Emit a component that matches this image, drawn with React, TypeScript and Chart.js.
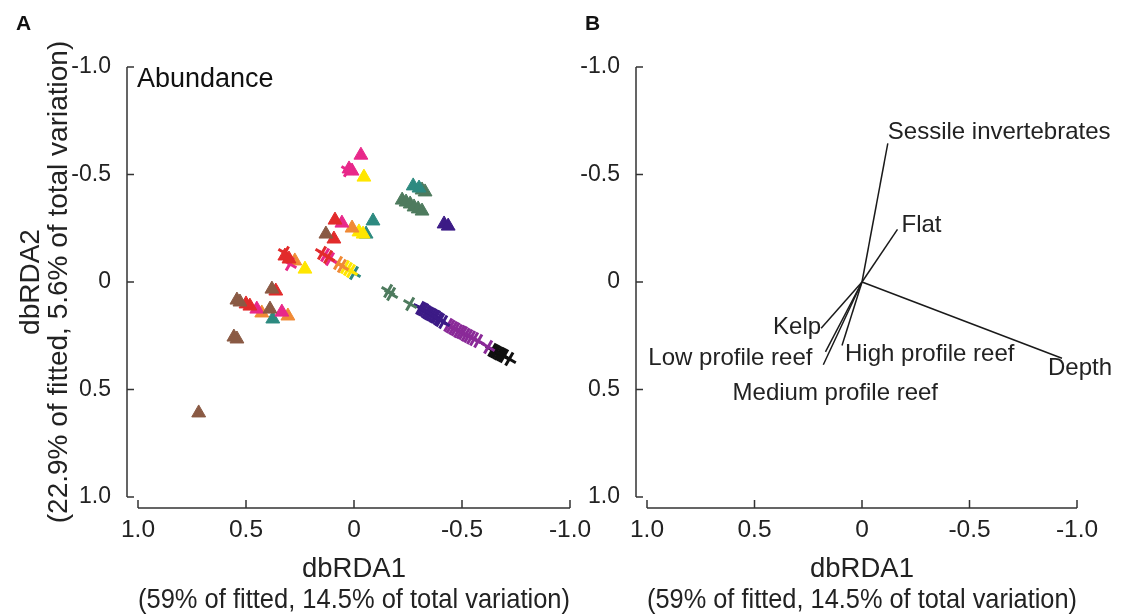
import React, { useEffect, useRef } from "react";
import { Chart, registerables } from "chart.js";
Chart.register(...registerables);

const FONT = "'Liberation Sans', Arial, Helvetica, sans-serif";
const INK = "#222222";

// ---- axes ----
const tickValues = [-1, -0.5, 0, 0.5, 1];
const tickLabels = ["-1.0", "-0.5", "0", "0.5", "1.0"];
const xTitle = ["dbRDA1", "(59% of fitted, 14.5% of total variation)"];
const yTitle = ["dbRDA2", "(22.9% of fitted, 5.6% of total variation)"];
const panelATitle = "Abundance";

// ---- panel A series (dbRDA1, dbRDA2) ----
const brownTriangles = [[0.13, -0.223], [0.38, 0.033], [0.528, 0.093], [0.542, 0.084], [0.389, 0.126], [0.542, 0.265], [0.556, 0.256], [0.719, 0.609]];
const redTriangles = [[0.088, -0.288], [0.093, -0.2], [0.32, -0.121], [0.301, -0.107], [0.362, 0.042], [0.482, 0.112], [0.5, 0.102]];
const redCrosses = [[0.148, -0.135], [0.12, -0.116], [0.32, -0.135]];
const magentaTriangles = [[-0.032, -0.59], [0.009, -0.516], [0.023, -0.526], [0.056, -0.274], [0.334, 0.14], [0.45, 0.126]];
const magentaCrosses = [[0.028, -0.52], [0.134, -0.126], [0.111, -0.107], [0.297, -0.084]];
const orangeTriangles = [[0.009, -0.251], [0.274, -0.098], [0.427, 0.144], [0.306, 0.158]];
const orangeCrosses = [[0.074, -0.088], [0.056, -0.074]];
const yellowTriangles = [[-0.046, -0.488], [-0.023, -0.233], [-0.042, -0.223], [0.227, -0.06]];
const yellowCrosses = [[0.042, -0.07], [0.028, -0.06], [0.014, -0.051]];
const tealTriangles = [[-0.274, -0.447], [-0.301, -0.437], [-0.088, -0.284], [-0.056, -0.223], [0.376, 0.172]];
const tealCrosses = [[0, -0.042]];
const greenTriangles = [[-0.315, -0.428], [-0.329, -0.419], [-0.223, -0.381], [-0.241, -0.372], [-0.26, -0.363], [-0.278, -0.349], [-0.297, -0.34], [-0.315, -0.33]];
const greenCrosses = [[-0.158, 0.042], [-0.172, 0.056], [-0.26, 0.102]];
const indigoTriangles = [[-0.417, -0.27], [-0.436, -0.26]];
const indigoCrosses = [[-0.306, 0.121], [-0.315, 0.126], [-0.325, 0.13], [-0.334, 0.138], [-0.343, 0.144], [-0.352, 0.149], [-0.362, 0.153], [-0.371, 0.159], [-0.38, 0.163], [-0.39, 0.171], [-0.399, 0.177], [-0.413, 0.186]];
const purpleCrosses = [[-0.436, 0.2], [-0.447, 0.207], [-0.459, 0.214], [-0.47, 0.22], [-0.482, 0.228], [-0.494, 0.232], [-0.505, 0.237], [-0.517, 0.245], [-0.529, 0.251], [-0.542, 0.258], [-0.556, 0.265], [-0.575, 0.274], [-0.621, 0.302]];
const blackCrosses = [[-0.64, 0.316], [-0.649, 0.321], [-0.658, 0.326], [-0.668, 0.331], [-0.677, 0.335], [-0.686, 0.34], [-0.695, 0.344], [-0.719, 0.358]];

// ---- panel B vectors ----
const vectorNames = ["Sessile invertebrates", "Flat", "Depth", "High profile reef", "Kelp", "Low profile reef", "Medium profile reef"];
const vectorX = [-0.12, -0.165, -0.93, 0.093, 0.19, 0.17, 0.18];
const vectorY = [-0.645, -0.245, 0.355, 0.295, 0.215, 0.325, 0.385];
// label placement relative to the arrow tip (pixels) – layout only
const labelPlacement: [number, number, CanvasTextAlign][] = [
  [0, -11, "left"], [4, -4, "left"], [-14, 10, "left"], [3, 9, "left"],
  [0, -1, "right"], [-13, 6, "right"], [12, 29, "center"],
];

const pts = (arr: number[][]) => arr.map(([x, y]) => ({ x, y }));

const tri = (label: string, arr: number[][], color: string) => ({
  label, data: pts(arr), pointStyle: "triangle", pointRadius: 8,
  backgroundColor: color, borderColor: color, borderWidth: 1,
});
const crs = (label: string, arr: number[][], color: string) => ({
  label, data: pts(arr), pointStyle: "cross", rotation: 30, pointRadius: 7.5,
  backgroundColor: color, borderColor: color, borderWidth: 3,
});

const offsetAxes = {
  id: "offsetAxes",
  afterDraw(chart: any) {
    const { ctx, chartArea, scales } = chart;
    const xs = scales.x, ys = scales.y;
    ctx.save();
    ctx.strokeStyle = "#333";
    ctx.lineWidth = 1.5;
    ctx.beginPath();
    const yx = chartArea.left - 11;
    ctx.moveTo(yx, ys.getPixelForValue(-1));
    ctx.lineTo(yx, ys.getPixelForValue(1));
    tickValues.forEach((v) => {
      const p = ys.getPixelForValue(v);
      ctx.moveTo(yx, p);
      ctx.lineTo(yx + 7, p);
    });
    const xy = chartArea.bottom + 11;
    ctx.moveTo(xs.getPixelForValue(1), xy);
    ctx.lineTo(xs.getPixelForValue(-1), xy);
    tickValues.forEach((v) => {
      const p = xs.getPixelForValue(v);
      ctx.moveTo(p, xy);
      ctx.lineTo(p, xy - 8);
    });
    ctx.stroke();
    const o = chart.options.plugins.offsetAxes || {};
    ctx.fillStyle = "#111";
    ctx.textBaseline = "middle";
    ctx.textAlign = "left";
    ctx.font = `bold 21px ${FONT}`;
    ctx.fillText(o.letter || "", o.letterX || 15, 24);
    if (o.title) {
      ctx.font = `27px ${FONT}`;
      ctx.fillText(o.title, chartArea.left - 1, chartArea.top + 13);
    }
    ctx.restore();
  },
};

const vectorLabels = {
  id: "vectorLabels",
  afterDatasetsDraw(chart: any) {
    if (!chart.options.plugins.vectorLabels?.on) return;
    const { ctx, scales } = chart;
    ctx.save();
    ctx.fillStyle = INK;
    ctx.font = `24px ${FONT}`;
    ctx.textBaseline = "middle";
    vectorNames.forEach((name, i) => {
      const px = scales.x.getPixelForValue(vectorX[i]);
      const py = scales.y.getPixelForValue(vectorY[i]);
      const [dx, dy, al] = labelPlacement[i];
      ctx.textAlign = al;
      ctx.fillText(name, px + dx, py + dy);
    });
    ctx.restore();
  },
};

function makeScales(yAxisWidth: number, withYTitle: boolean) {
  return {
    x: {
      type: "linear", min: -1, max: 1, reverse: true,
      afterBuildTicks: (s: any) => { s.ticks = tickValues.map((v) => ({ value: v })); },
      afterFit: (s: any) => { s.height = 119; },
      grid: { display: false, drawTicks: false },
      border: { display: false },
      ticks: {
        callback: (v: number) => tickLabels[tickValues.indexOf(v)],
        font: { family: FONT, size: 24.5 }, color: INK, padding: 19, maxRotation: 0, autoSkip: false,
      },
      title: {
        display: true, text: xTitle, color: INK,
        font: { family: FONT, size: 27.5, lineHeight: 1.13 },
        padding: { top: 0, bottom: 0 },
      },
    },
    y: {
      type: "linear", min: -1, max: 1, reverse: true,
      afterBuildTicks: (s: any) => { s.ticks = tickValues.map((v) => ({ value: v })); },
      afterFit: (s: any) => { s.width = yAxisWidth; },
      grid: { display: false, drawTicks: false },
      border: { display: false },
      ticks: {
        callback: (v: number) => tickLabels[tickValues.indexOf(v)],
        font: { family: FONT, size: 23 }, color: INK, padding: 27, autoSkip: false,
      },
      title: {
        display: withYTitle, text: yTitle, color: INK,
        font: { family: FONT, size: 28, lineHeight: 1.0 },
        padding: { top: 17, bottom: 0 },
      },
    },
  };
}

function PanelA() {
  const ref = useRef<HTMLCanvasElement>(null);
  useEffect(() => {
    const chart = new Chart(ref.current!, {
      type: "scatter",
      data: {
        datasets: [
          tri("brown", brownTriangles, "#8a5a44"),
          tri("red", redTriangles, "#e22b2b"),
          crs("red x", redCrosses, "#e22b2b"),
          tri("magenta", magentaTriangles, "#e8288a"),
          crs("magenta x", magentaCrosses, "#e8288a"),
          tri("orange", orangeTriangles, "#f08a35"),
          crs("orange x", orangeCrosses, "#f08a35"),
          tri("yellow", yellowTriangles, "#ffe600"),
          crs("yellow x", yellowCrosses, "#ffe600"),
          tri("teal", tealTriangles, "#2d8a80"),
          crs("teal x", tealCrosses, "#2d8a80"),
          tri("green", greenTriangles, "#4e7b5e"),
          crs("green x", greenCrosses, "#4e7b5e"),
          tri("indigo", indigoTriangles, "#3c1b86"),
          crs("indigo x", indigoCrosses, "#3c1b86"),
          crs("purple x", purpleCrosses, "#8a2a98"),
          crs("black x", blackCrosses, "#111111"),
        ] as any,
      },
      options: {
        animation: false, responsive: false,
        layout: { padding: { top: 67, right: 30, left: 0, bottom: 0 } },
        plugins: {
          legend: { display: false }, tooltip: { enabled: false },
          offsetAxes: { letter: "A", letterX: 16, title: panelATitle },
        } as any,
        scales: makeScales(138, true) as any,
      },
      plugins: [offsetAxes],
    });
    return () => chart.destroy();
  }, []);
  return <canvas ref={ref} width={600} height={616} style={{ position: "absolute", left: 0, top: 0, width: 600, height: 616 }} />;
}

function PanelB() {
  const ref = useRef<HTMLCanvasElement>(null);
  useEffect(() => {
    const chart = new Chart(ref.current!, {
      type: "scatter",
      data: {
        datasets: vectorNames.map((n, i) => ({
          label: n,
          data: [{ x: 0, y: 0 }, { x: vectorX[i], y: vectorY[i] }],
          showLine: true, pointRadius: 0, borderColor: "#1a1a1a", borderWidth: 1.5,
        })) as any,
      },
      options: {
        animation: false, responsive: false,
        layout: { padding: { top: 67, right: 45, left: 0, bottom: 0 } },
        plugins: {
          legend: { display: false }, tooltip: { enabled: false },
          offsetAxes: { letter: "B", letterX: 15 },
          vectorLabels: { on: true },
        } as any,
        scales: makeScales(77, false) as any,
      },
      plugins: [offsetAxes, vectorLabels],
    });
    return () => chart.destroy();
  }, []);
  return <canvas ref={ref} width={552} height={616} style={{ position: "absolute", left: 570, top: 0, width: 552, height: 616 }} />;
}

export default function App() {
  return (
    <div style={{ position: "fixed", left: 0, top: 0, width: 1122, height: 616, background: "#fff" }}>
      <PanelA />
      <PanelB />
    </div>
  );
}
